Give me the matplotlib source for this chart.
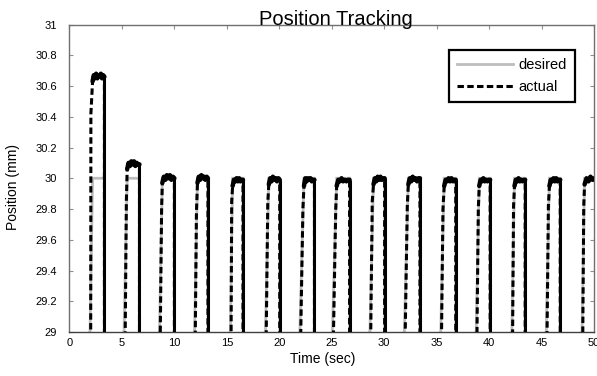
import matplotlib
matplotlib.use("Agg")
import matplotlib.pyplot as plt
import numpy as np
from matplotlib.ticker import FormatStrFormatter, MultipleLocator

# position step responses, one entry per pulse
rise_start = [2.02, 5.30, 8.64, 11.98, 15.40, 18.74, 22.02, 25.14, 28.70,
              31.98, 35.45, 38.83, 42.23, 45.51, 48.92]
knee_time = [2.04, 5.42, 8.78, 12.10, 15.46, 18.90, 22.25, 25.38, 28.86,
             32.20, 35.60, 38.97, 42.33, 45.65, 49.02]
knee_pos = [30.42, 29.85, 29.80, 29.78, 29.85, 29.84, 29.80, 29.80, 29.85,
            29.82, 29.80, 29.80, 29.82, 29.82, 29.82]
top_start = [2.20, 5.50, 8.85, 12.20, 15.55, 19.00, 22.35, 25.47, 28.98,
             32.30, 35.72, 39.06, 42.42, 45.75, 49.10]
fall_time = [3.33, 6.67, 10.00, 13.20, 16.54, 20.04, 23.35, 26.70, 30.04,
             33.41, 36.82, 40.10, 43.44, 46.78, 50.60]
top_samples = [
    [30.63, 30.67, 30.65, 30.68, 30.65, 30.67, 30.66, 30.68, 30.65, 30.67, 30.66],
    [30.06, 30.10, 30.08, 30.11, 30.09, 30.11, 30.08, 30.10, 30.09, 30.09],
    [29.97, 30.01, 29.99, 30.02, 30.00, 30.02, 29.99, 30.01, 30.00],
    [29.97, 30.01, 29.99, 30.02, 30.00, 30.01, 29.99, 30.01, 30.00],
    [29.95, 29.99, 29.98, 30.00, 29.98, 30.00, 29.98, 29.99, 29.99],
    [29.96, 30.00, 29.98, 30.01, 29.99, 30.00, 29.98, 30.00, 29.99],
    [29.95, 30.00, 29.98, 30.00, 29.99, 30.00, 29.98, 29.99, 29.99],
    [29.95, 29.99, 29.98, 30.00, 29.98, 29.99, 29.98, 29.99, 29.99],
    [29.96, 30.00, 29.98, 30.01, 29.99, 30.01, 29.99, 30.00, 30.00],
    [29.96, 30.00, 29.98, 30.01, 29.99, 30.00, 29.98, 30.00, 30.00],
    [29.95, 29.99, 29.98, 30.00, 29.98, 30.00, 29.98, 29.99, 29.99],
    [29.95, 29.99, 29.98, 30.00, 29.98, 29.99, 29.98, 29.99, 29.99],
    [29.95, 29.99, 29.98, 30.00, 29.98, 29.99, 29.98, 29.99, 29.99],
    [29.95, 29.99, 29.98, 30.00, 29.98, 30.00, 29.98, 29.99, 29.99],
    [29.96, 30.00, 29.98, 30.01, 29.99, 30.00, 29.98, 30.00, 30.00],
]

# commanded position: leaves the base, reaches 30 mm, drops back
desired_up = [1.96, 5.20, 8.58, 11.92, 15.34, 18.68, 21.96, 25.06, 28.64,
              31.92, 35.39, 38.77, 42.17, 45.45, 48.86]
desired_high = [2.20, 5.50, 8.85, 12.20, 15.55, 19.00, 22.35, 25.47, 28.98,
                32.30, 35.72, 39.06, 42.42, 45.75, 49.10]
desired_down = fall_time
desired_level = 30.0
base = 28.9

t_act, y_act = [0.0], [base]
top_t = []
for i in range(len(rise_start)):
    t_act += [rise_start[i], knee_time[i]]
    y_act += [base, knee_pos[i]]
    ts = list(np.linspace(top_start[i], fall_time[i], len(top_samples[i])))
    top_t.append(ts)
    t_act += ts
    y_act += top_samples[i]
    t_act.append(fall_time[i])
    y_act.append(base)

t_des, y_des = [0.0], [base]
for i in range(len(desired_up)):
    t_des += [desired_up[i], desired_high[i], desired_down[i], desired_down[i]]
    y_des += [base + 0.1, desired_level, desired_level, base]

plt.rcParams["font.family"] = ["Liberation Sans", "DejaVu Sans"]

fig = plt.figure(figsize=(5.97, 3.76), dpi=100)
ax = fig.add_axes([0.1164, 0.117, 0.8786, 0.8178])

ax.plot(t_des, y_des, color="#bdbdbd", lw=2.0, solid_joinstyle="miter",
        label="desired", zorder=2)
ax.plot(t_act, y_act, color="black", lw=2.2, dashes=(2.1, 1.1),
        label="actual", zorder=3)
# noisy plateaus and fast drops read as solid strokes
for ts, ys in zip(top_t, top_samples):
    ax.plot(ts, ys, color="black", lw=3.2, solid_capstyle="round",
            solid_joinstyle="round", zorder=3)
ax.vlines(fall_time, base, [s[-1] for s in top_samples], colors="black",
          lw=2.2, zorder=3)

ax.set_xlim(0, 50)
ax.set_ylim(29, 31)
ax.xaxis.set_major_locator(MultipleLocator(5))
ax.yaxis.set_major_locator(MultipleLocator(0.2))
ax.yaxis.set_major_formatter(FormatStrFormatter("%g"))

for side in ax.spines.values():
    side.set_color("#707070")
    side.set_linewidth(1.0)
ax.spines["bottom"].set_color("#404040")

ax.tick_params(axis="y", direction="in", length=3, width=0.8, color="#909090",
               labelsize=8, pad=9, right=True)
ax.tick_params(axis="x", direction="in", length=3, width=0.8, color="#909090",
               labelsize=8, pad=4, top=True, bottom=False)

ax.set_xlabel("Time (sec)", fontsize=10)
ax.xaxis.set_label_coords(0.482, -0.066)
ax.set_ylabel("Position (mm)", fontsize=10)
ax.yaxis.set_label_coords(-0.094, 0.472)

ax.text(0.508, 1.0, "Position Tracking", transform=ax.transAxes,
        ha="center", va="baseline", fontsize=14.5)

leg = ax.legend(loc="upper right", bbox_to_anchor=(0.9638, 0.917),
                borderaxespad=0, fontsize=10.5, handlelength=3.8,
                handletextpad=0.4, labelspacing=0.55, borderpad=0.55,
                fancybox=False, framealpha=1)
leg.get_frame().set_edgecolor("black")
leg.get_frame().set_linewidth(1.6)

fig.savefig("out.png", dpi=100)
